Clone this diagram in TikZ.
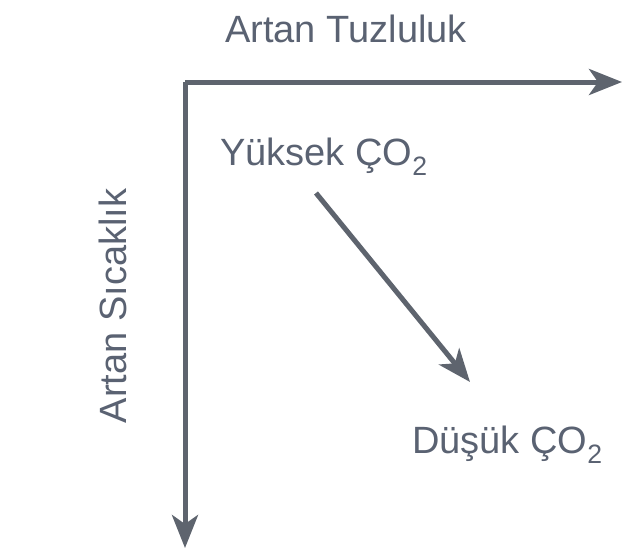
\documentclass[tikz,border=0pt]{standalone}
\usepackage{fontspec}
\setmainfont{Liberation Sans}
\usetikzlibrary{arrows.meta}
\definecolor{linec}{HTML}{5E646E}
\definecolor{textc}{HTML}{5A6272}
\tikzset{
  axis/.style={draw=linec, line width=5pt, -{Stealth[length=33pt,width=26pt,inset=9pt]}},
  lbl/.style={text=textc, font=\fontsize{38}{40}\selectfont, inner sep=0pt},
}
\begin{document}
\begin{tikzpicture}[x=1pt,y=-1pt]
\useasboundingbox (0,0) rectangle (632,552);
\coordinate (o) at (185,82);
\coordinate (xe) at (622,82);
\coordinate (ye) at (185,548);
\draw[axis] (o) -- (xe);
\draw[axis] (o) -- (ye);
\node[lbl, anchor=base] (t) at (346,42) {Artan Tuzluluk};
\node[lbl, anchor=base, rotate=90] (s) at (126,306) {Artan Sıcaklık};
\node[lbl, anchor=base west] (hi) at (220,165) {Yüksek ÇO\textsubscript{2}};
\node[lbl, anchor=base west] (lo) at (412,453) {Düşük ÇO\textsubscript{2}};
\coordinate (a1) at (316,193);
\coordinate (a2) at (470,382);
\draw[axis] (a1) -- (a2);
\end{tikzpicture}
\end{document}
